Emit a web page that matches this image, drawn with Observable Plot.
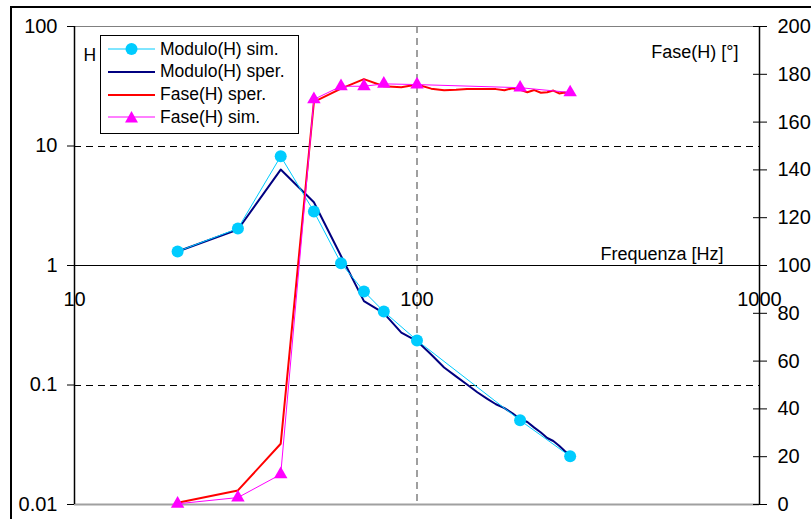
<!DOCTYPE html>
<html>
<head>
<meta charset="utf-8">
<script src="https://cdn.jsdelivr.net/npm/d3@7"></script>
<script src="https://cdn.jsdelivr.net/npm/@observablehq/plot@0.6"></script>
<style>
  body { margin: 0; background: white; }
  #wrap { position: relative; width: 811px; height: 519px; overflow: hidden; font-family: "Liberation Sans", Arial, sans-serif; }
  #wrap > svg, #wrap > figure { position: absolute; left: 0; top: 0; margin: 0; }
  #frame { position: absolute; left: 10px; top: 6px; width: 1000px; height: 1000px; border-left: 2px solid black; border-top: 2px solid black; pointer-events: none; }
  #legend { position: absolute; left: 100px; top: 35px; width: 197px; height: 97px; border: 1px solid black; background: white; }
  .lrow { position: absolute; left: 0; height: 22px; display: flex; align-items: center; font-size: 17.5px; white-space: nowrap; }
  .lrow svg { margin-left: 7px; margin-right: 5px; }
</style>
</head>
<body>
<div id="wrap"></div>
<script>
// ---- data ----
const freqSim = [20, 30, 40, 50, 60, 70, 80, 100, 200, 280];
const moduloSim = [1.31, 2.04, 8.2, 2.83, 1.045, 0.607, 0.412, 0.236, 0.0506, 0.0253];
const faseSim = [0.3, 2.9, 12.6, 169.5, 175, 175, 176, 175.7, 174.4, 172.4];

const freqSper = [20, 30, 40, 50, 60, 70, 80, 90, 100, 110, 120, 130, 140, 150, 160, 170, 180, 190, 200, 210, 220, 230, 240, 250, 260, 270, 280];
const moduloSper = [1.31, 2.0, 6.35, 3.38, 1.2, 0.503, 0.40, 0.274, 0.233, 0.180, 0.140, 0.118, 0.101, 0.087, 0.077, 0.069, 0.064, 0.058, 0.052, 0.049, 0.044, 0.040, 0.036, 0.034, 0.031, 0.028, 0.026];
const faseSper = [0.7, 5.9, 25.4, 168.5, 174, 178, 175, 174.6, 175.7, 174, 173.3, 173.5, 173.8, 173.8, 173.8, 173.8, 173.3, 174.2, 173.5, 172.5, 173.4, 172.3, 172.5, 173.2, 172.0, 172.4, 171.5];

const xTicks = [10, 100, 1000];
const xTickLabels = ["10", "100", "1000"];
const yTicks = [0.01, 0.1, 1, 10, 100];
const yTickLabels = ["0.01", "0.1", "1", "10", "100"];
const phaseTicks = [0, 20, 40, 60, 80, 100, 120, 140, 160, 180, 200];
const phaseTickLabels = ["0", "20", "40", "60", "80", "100", "120", "140", "160", "180", "200"];

const seriesNames = ["Modulo(H) sim.", "Modulo(H) sper.", "Fase(H) sper.", "Fase(H) sim."];
const seriesColors = ["#00ccff", "#000080", "#ff0000", "#ff00ff"];

// ---- tables ----
const simRows = freqSim.map((f, i) => ({f, mod: moduloSim[i], fase: faseSim[i]}));
const sperRows = freqSper.map((f, i) => ({f, mod: moduloSper[i], fase: faseSper[i]}));
const yLabelMap = new Map(yTicks.map((t, i) => [t, yTickLabels[i]]));
const pLabelMap = new Map(phaseTicks.map((t, i) => [t, phaseTickLabels[i]]));

const W = 811, H = 519;
const common = {width: W, height: H, marginLeft: 74, marginRight: 52, marginTop: 26, marginBottom: 15};
const font = "'Liberation Sans', Arial, sans-serif";

const plotMod = Plot.plot({
  ...common,
  x: {type: "log", domain: [10, 1000], axis: null},
  y: {type: "log", domain: [0.01, 100], axis: null},
  style: {fontFamily: font, fontSize: "20px", background: "white", color: "black", overflow: "visible"},
  marks: [
    Plot.ruleY([100], {stroke: "#808080", strokeWidth: 1, shapeRendering: "crispEdges"}),
    Plot.ruleY([10, 0.1], {stroke: "black", strokeDasharray: "7,5", strokeWidth: 1, shapeRendering: "crispEdges"}),
    Plot.ruleX([100], {stroke: "#808080", strokeDasharray: "7,5", strokeWidth: 1.5}),
    Plot.ruleY([1], {stroke: "black", strokeWidth: 1, shapeRendering: "crispEdges"}),
    Plot.ruleY([0.01], {stroke: "#a0a0a0", strokeWidth: 2}),
    Plot.ruleX([10], {stroke: "black", strokeWidth: 1.5}),
    Plot.axisY({ticks: yTicks, tickFormat: d => yLabelMap.get(d), tickSize: 7, tickPadding: 10, fontSize: 20, stroke: "black", label: null}),
    Plot.text(xTicks, {x: d => d, y: () => 1, text: (d, i) => xTickLabels[i], dy: 34, fontSize: 20, fill: "black"}),
    Plot.text(["H"], {frameAnchor: "top-left", textAnchor: "start", dx: 9, dy: 22, fontSize: 17.5, fill: "black"}),
    Plot.text(["Frequenza [Hz]"], {frameAnchor: "top-right", textAnchor: "end", dx: -36, dy: 221, fontSize: 18, fill: "black"}),
    Plot.line(sperRows, {x: "f", y: "mod", stroke: seriesColors[1], strokeWidth: 2}),
    Plot.line(simRows, {x: "f", y: "mod", stroke: seriesColors[0], strokeWidth: 1}),
    Plot.dot(simRows, {x: "f", y: "mod", fill: seriesColors[0], r: 6})
  ]
});

const plotFase = Plot.plot({
  ...common,
  x: {type: "log", domain: [10, 1000], axis: null},
  y: {type: "linear", domain: [0, 200], axis: null},
  style: {fontFamily: font, fontSize: "20px", background: "transparent", color: "black", overflow: "visible"},
  marks: [
    Plot.ruleX([1000], {stroke: "black", strokeWidth: 1.5}),
    Plot.axisY({anchor: "right", ticks: phaseTicks, tickFormat: d => pLabelMap.get(d), tickSize: 14, dx: -7, tickPadding: 11, fontSize: 20, stroke: "black", label: null}),
    Plot.text(["Fase(H) [°]"], {frameAnchor: "top-right", textAnchor: "end", dx: -21, dy: 18.5, fontSize: 18, fill: "black"}),
    Plot.line(sperRows, {x: "f", y: "fase", stroke: seriesColors[2], strokeWidth: 2}),
    Plot.line(simRows, {x: "f", y: "fase", stroke: seriesColors[3], strokeWidth: 1}),
    Plot.dot(simRows, {x: "f", y: "fase", symbol: "triangle", fill: seriesColors[3], r: 5})
  ]
});

const wrap = document.getElementById("wrap");
wrap.appendChild(plotMod);
wrap.appendChild(plotFase);

// legend
const legend = document.createElement("div");
legend.id = "legend";
const symbols = ["circle", "none", "none", "triangle"];
const widths = [1, 2, 2, 1];
seriesNames.forEach((name, i) => {
  const row = document.createElement("div");
  row.className = "lrow";
  row.style.top = (2 + i * 22.8) + "px";
  let sym = "";
  if (symbols[i] === "circle") sym = `<circle cx="23.5" cy="11" r="6" fill="${seriesColors[i]}"/>`;
  if (symbols[i] === "triangle") sym = `<path d="M23.5,5 L30,16.5 L17,16.5 Z" fill="${seriesColors[i]}"/>`;
  row.innerHTML = `<svg width="47" height="22"><line x1="0" x2="47" y1="11" y2="11" stroke="${seriesColors[i]}" stroke-width="${widths[i]}"/>${sym}</svg><span>${name}</span>`;
  legend.appendChild(row);
});
wrap.appendChild(legend);

const frame = document.createElement("div");
frame.id = "frame";
wrap.appendChild(frame);
</script>
</body>
</html>
